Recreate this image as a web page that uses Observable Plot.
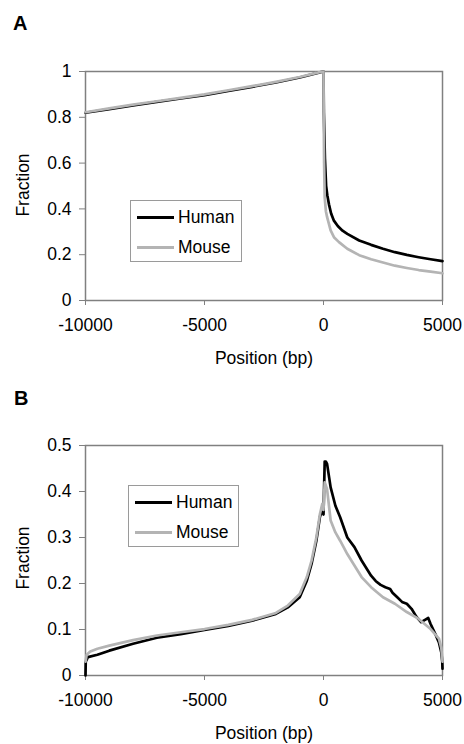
<!DOCTYPE html>
<html>
<head>
<meta charset="utf-8">
<script src="https://cdn.jsdelivr.net/npm/d3@7"></script>
<script src="https://cdn.jsdelivr.net/npm/@observablehq/plot@0.6"></script>
<style>
  body { margin: 0; background: #fff; }
  #wrap { position: relative; width: 464px; height: 744px; font-family: "Liberation Sans", Arial, sans-serif; color: #000; }
  .panel { position: absolute; left: 0; }
  .tag { position: absolute; font-weight: bold; font-size: 20px; line-height: 1; }
  .lab { position: absolute; font-size: 17.5px; line-height: 1; white-space: nowrap; transform: translate(-50%, -50%); }
  .ylab { transform: translate(-50%, -50%) rotate(-90deg); }
  .legend { position: absolute; border: 1px solid #9a9a9a; background: #fff; }
  .legend .row { position: absolute; left: 6px; height: 20px; display: flex; align-items: center; font-size: 17.5px; }
  .legend .sw { width: 37px; height: 3px; margin-right: 4px; }
</style>
</head>
<body>
<div id="wrap">
  <div id="panelA" class="panel" style="top:0"></div>
  <div id="panelB" class="panel" style="top:372px"></div>
</div>
<script>
// ---------- Data ----------
const panelTags = ["A", "B"];
const seriesNames = ["Human", "Mouse"];
const seriesColors = ["#000000", "#b4b4b4"];
const xTicks = [-10000, -5000, 0, 5000];
const yTicksA = [0, 0.2, 0.4, 0.6, 0.8, 1];
const yTicksB = [0, 0.1, 0.2, 0.3, 0.4, 0.5];
const xLabel = "Position (bp)";
const yLabel = "Fraction";

// Panel A
const humanAPos  = [-10000, -9000, -8000, -7000, -6000, -5000, -4000, -3000, -2000, -1000, -200, 0, 15, 60, 110, 160, 230, 320, 430, 600, 800, 1000, 1500, 2000, 2500, 3000, 3500, 4000, 4500, 5000];
const humanAFrac = [0.82, 0.836, 0.852, 0.867, 0.882, 0.897, 0.915, 0.933, 0.952, 0.974, 0.995, 1.0, 0.82, 0.62, 0.50, 0.46, 0.42, 0.38, 0.35, 0.325, 0.305, 0.291, 0.262, 0.243, 0.226, 0.211, 0.199, 0.189, 0.18, 0.172];
const mouseAPos  = [-10000, -9000, -8000, -7000, -6000, -5000, -4000, -3000, -2000, -1000, -200, 0, 10, 25, 50, 100, 150, 300, 450, 650, 1000, 1500, 2000, 2500, 3000, 3500, 4000, 4500, 5000];
const mouseAFrac = [0.822, 0.839, 0.855, 0.870, 0.885, 0.900, 0.918, 0.936, 0.955, 0.976, 0.996, 1.0, 0.80, 0.60, 0.45, 0.39, 0.365, 0.306, 0.275, 0.255, 0.226, 0.198, 0.18, 0.166, 0.152, 0.142, 0.133, 0.126, 0.119];

// Panel B
const humanBPos  = [-10000, -9990, -9900, -9500, -9000, -8000, -7000, -6000, -5000, -4000, -3000, -2000, -1500, -1000, -700, -500, -300, -150, -50, 0, 50, 100, 150, 300, 500, 700, 1000, 1300, 1600, 2000, 2200, 2400, 2600, 2800, 2900, 3100, 3300, 3500, 3700, 3900, 4100, 4300, 4400, 4500, 4700, 4850, 4950, 4990, 5000];
const humanBFrac = [0.0, 0.03, 0.04, 0.045, 0.054, 0.069, 0.082, 0.090, 0.099, 0.108, 0.119, 0.134, 0.148, 0.170, 0.206, 0.243, 0.293, 0.345, 0.36, 0.35, 0.465, 0.465, 0.46, 0.409, 0.369, 0.344, 0.300, 0.279, 0.25, 0.217, 0.205, 0.197, 0.192, 0.188, 0.180, 0.170, 0.160, 0.156, 0.145, 0.128, 0.116, 0.122, 0.125, 0.112, 0.09, 0.072, 0.05, 0.03, 0.015];
const mouseBPos  = [-10000, -9950, -9800, -9500, -9000, -8000, -7000, -6000, -5000, -4000, -3000, -2000, -1500, -1000, -700, -500, -300, -150, -50, 0, 50, 150, 300, 500, 700, 1000, 1300, 1600, 2000, 2500, 3000, 3500, 4000, 4500, 4850, 4950, 5000];
const mouseBFrac = [0.03, 0.045, 0.052, 0.058, 0.065, 0.077, 0.087, 0.094, 0.101, 0.110, 0.121, 0.136, 0.152, 0.177, 0.214, 0.25, 0.30, 0.351, 0.373, 0.36, 0.42, 0.405, 0.337, 0.311, 0.293, 0.264, 0.239, 0.214, 0.192, 0.170, 0.156, 0.138, 0.123, 0.101, 0.08, 0.06, 0.03];

// ---------- Drawing ----------
const rows = (pos, frac) => pos.map((p, i) => ({x: p, y: frac[i]}));
const fontCss = {fontFamily: "'Liberation Sans', Arial, sans-serif", fontSize: "17.5px", background: "transparent", overflow: "visible"};

function panel(series, yDomain, yTicks, mt, mb) {
  return Plot.plot({
    width: 464, height: 372,
    marginLeft: 85, marginRight: 22, marginTop: mt, marginBottom: mb,
    style: fontCss,
    x: {domain: [-10000, 5000]},
    y: {domain: yDomain},
    marks: [
      Plot.frame({stroke: "#808080", strokeWidth: 1.5}),
      Plot.axisX({ticks: xTicks, tickFormat: d => String(d), tickSize: 5, tickPadding: 13, stroke: "#808080", fill: "#000", label: null}),
      Plot.axisY({ticks: yTicks, tickFormat: d => String(d), tickSize: 6, tickPadding: 8, stroke: "#808080", fill: "#000", label: null}),
      ...series.map((s, i) => Plot.line(s, {x: "x", y: "y", stroke: seriesColors[i], strokeWidth: 2.7, strokeLinejoin: "round"}))
    ]
  });
}

document.getElementById("panelA").append(panel([rows(humanAPos, humanAFrac), rows(mouseAPos, mouseAFrac)], [0, 1], yTicksA, 71, 72));
document.getElementById("panelB").append(panel([rows(humanBPos, humanBFrac), rows(mouseBPos, mouseBFrac)], [0, 0.5], yTicksB, 73, 69));

const wrap = document.getElementById("wrap");
function addText(cls, txt, x, y) {
  const d = document.createElement("div");
  d.className = cls; d.textContent = txt;
  d.style.left = x + "px"; d.style.top = y + "px";
  wrap.append(d);
}
addText("tag", panelTags[0], 13, 13);
addText("tag", panelTags[1], 14, 388);
addText("lab ylab", yLabel, 24, 185);
addText("lab ylab", yLabel, 24, 558);
addText("lab", xLabel, 264, 359);
addText("lab", xLabel, 264, 734);

function legend(left, top, w, h, rowYs) {
  const box = document.createElement("div");
  box.className = "legend";
  box.style.left = left + "px"; box.style.top = top + "px";
  box.style.width = w + "px"; box.style.height = h + "px";
  seriesNames.forEach((n, i) => {
    const r = document.createElement("div");
    r.className = "row";
    r.style.top = (rowYs[i] - 10) + "px";
    const sw = document.createElement("div");
    sw.className = "sw"; sw.style.background = seriesColors[i];
    const t = document.createElement("span"); t.textContent = n;
    r.append(sw, t); box.append(r);
  });
  wrap.append(box);
}
legend(130, 200, 110, 60, [16, 46]);
legend(128, 485, 109, 60, [16, 46]);
</script>
</body>
</html>
